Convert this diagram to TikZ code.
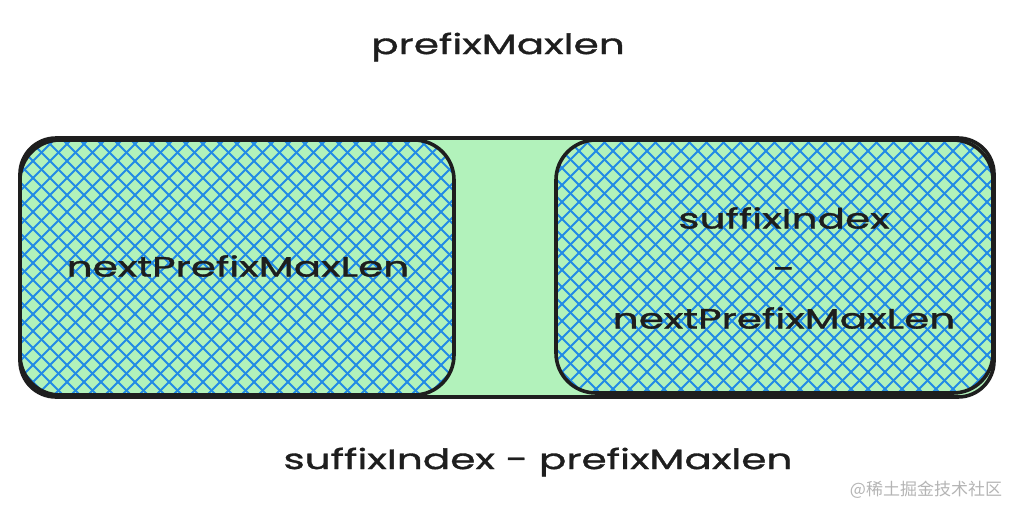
\documentclass[tikz,border=0pt]{standalone}
\usepackage{fontspec}
\setmainfont{Poppins}[FakeStretch=1.45,FakeBold=1.2]
\newfontfamily\cjk{Noto Sans CJK SC}
\definecolor{boxgreen}{HTML}{B2F2BB}
\definecolor{hatchblue}{HTML}{228BE6}
\definecolor{inkblack}{HTML}{1E1E1E}
\definecolor{wmgray}{HTML}{B4B4B4}
\tikzset{
  outerbox/.style={draw=inkblack, line width=3.6pt, fill=boxgreen, rounded corners=36pt},
  innerbox/.style={draw=inkblack, line width=3.6pt, rounded corners=40pt},
  hatch/.style={draw=hatchblue, line width=2pt},
  lbl/.style={font=\fontsize{28}{34}\selectfont, text=inkblack, inner sep=0pt, align=center},
}
\begin{document}
\begin{tikzpicture}[x=1pt,y=-1pt]
\useasboundingbox (0,0) rectangle (1014,506);
% outer box
\draw[outerbox] (20,138) rectangle (994,397);
% hatching of left inner box
\begin{scope}
  \clip[rounded corners=40pt] (20,140) rectangle (454,395);
  \foreach \i in {-260,-243,...,460} { \draw[hatch] (\i,140) -- ++(260,260); }
  \foreach \i in {20,37,...,720} { \draw[hatch] (\i,140) -- ++(-260,260); }
\end{scope}
% hatching of right inner box
\begin{scope}
  \clip[rounded corners=40pt] (556,140) rectangle (993,393);
  \foreach \i in {296,313,...,1000} { \draw[hatch] (\i,140) -- ++(260,260); }
  \foreach \i in {556,573,...,1260} { \draw[hatch] (\i,140) -- ++(-260,260); }
\end{scope}
\draw[innerbox] (20,140) rectangle (454,395);
\draw[innerbox] (556,140) rectangle (993,393);
\node[lbl] (top) at (498,47) {prefixMaxlen};
\node[lbl] (left) at (238,266) {nextPrefixMaxLen};
\node[lbl] (right) at (784,268) {suffixIndex\\[16pt]-\\[16pt]nextPrefixMaxLen};
\node[lbl] (bottom) at (538,462) {suffixIndex - prefixMaxlen};
\node[font=\cjk\fontsize{17}{19}\selectfont, text=wmgray, inner sep=0pt] (wm) at (926,490) {@稀土掘金技术社区};
\end{tikzpicture}
\end{document}
